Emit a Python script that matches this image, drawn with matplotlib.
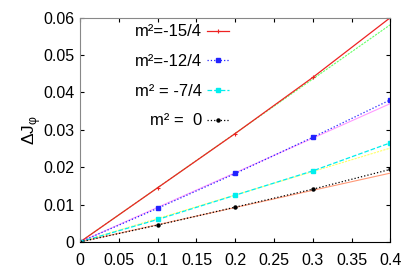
import numpy as np
import matplotlib.pyplot as plt

plt.rcParams['font.family'] = ['Liberation Sans', 'DejaVu Sans']

x = [0, 0.1, 0.2, 0.3, 0.4]
y_15 = [0, 0.0145, 0.0290, 0.0440, 0.0600]
y_12 = [0, 0.0090, 0.0183, 0.0280, 0.0380]
y_7 = [0, 0.0060, 0.0125, 0.0190, 0.0265]
y_0 = [0, 0.0045, 0.0093, 0.0141, 0.0194]

# straight fits through origin (value at x=0.4)
fit_x = [0, 0.4]
fit_15 = [0, 0.0581]
fit_12 = [0, 0.0370]
fit_7 = [0, 0.0251]
fit_0 = [0, 0.0184]

labels = ['m²=-15/4', 'm²=-12/4', 'm² = -7/4', 'm² =  0']

fig, ax = plt.subplots(figsize=(4.07, 2.67), dpi=100)
fig.subplots_adjust(left=0.197, right=0.959, top=0.934, bottom=0.094)

ax.plot(fit_x, fit_15, color='#66ff66', lw=0.8, ls=(0, (2, 1)))
ax.plot(fit_x, fit_12, color='#ff99ff', lw=0.8)
ax.plot(fit_x, fit_7, color='#ffff66', lw=0.8, ls=(0, (2, 1)))
ax.plot(fit_x, fit_0, color='#ff9977', lw=0.8)

ax.plot(x, y_15, color='#ee2222', lw=0.9, marker='+', ms=3, mew=0.8, label=labels[0])
ax.plot(x, y_12, color='#2222ff', lw=0.9, ls=':', marker='s', ms=2.5, label=labels[1])
ax.plot(x, y_7, color='#00eeee', lw=0.9, ls='--', marker='s', ms=2.8, label=labels[2])
ax.plot(x, y_0, color='black', lw=0.9, ls=':', marker='o', ms=2.2, label=labels[3])

ax.set_xlim(0, 0.4)
ax.set_ylim(0, 0.06)
ax.set_xticks(np.arange(0, 0.401, 0.05))
ax.set_xticklabels(['0', '0.05', '0.1', '0.15', '0.2', '0.25', '0.3', '0.35', '0.4'])
ax.set_yticks(np.arange(0, 0.061, 0.01))
ax.set_yticklabels(['0', '0.01', '0.02', '0.03', '0.04', '0.05', '0.06'])
ax.tick_params(direction='in', top=True, right=True, labelsize=11.5, length=3)
ax.tick_params(axis='x', pad=8)
ax.tick_params(axis='y', pad=4)
ax.set_ylabel('ΔJ$_{\\mathregular{φ}}$', fontsize=12.5)
ax.yaxis.set_label_coords(-0.12, 0.5)
for s in ['top', 'left']:
    ax.spines[s].set_color('#888888')

ax.legend(loc='upper left', bbox_to_anchor=(0.177, 0.97), frameon=False, markerfirst=False,
          fontsize=12, handlelength=1.3, labelspacing=0.88, handletextpad=0.3,
          borderpad=0, borderaxespad=0)

fig.savefig('out.png')
